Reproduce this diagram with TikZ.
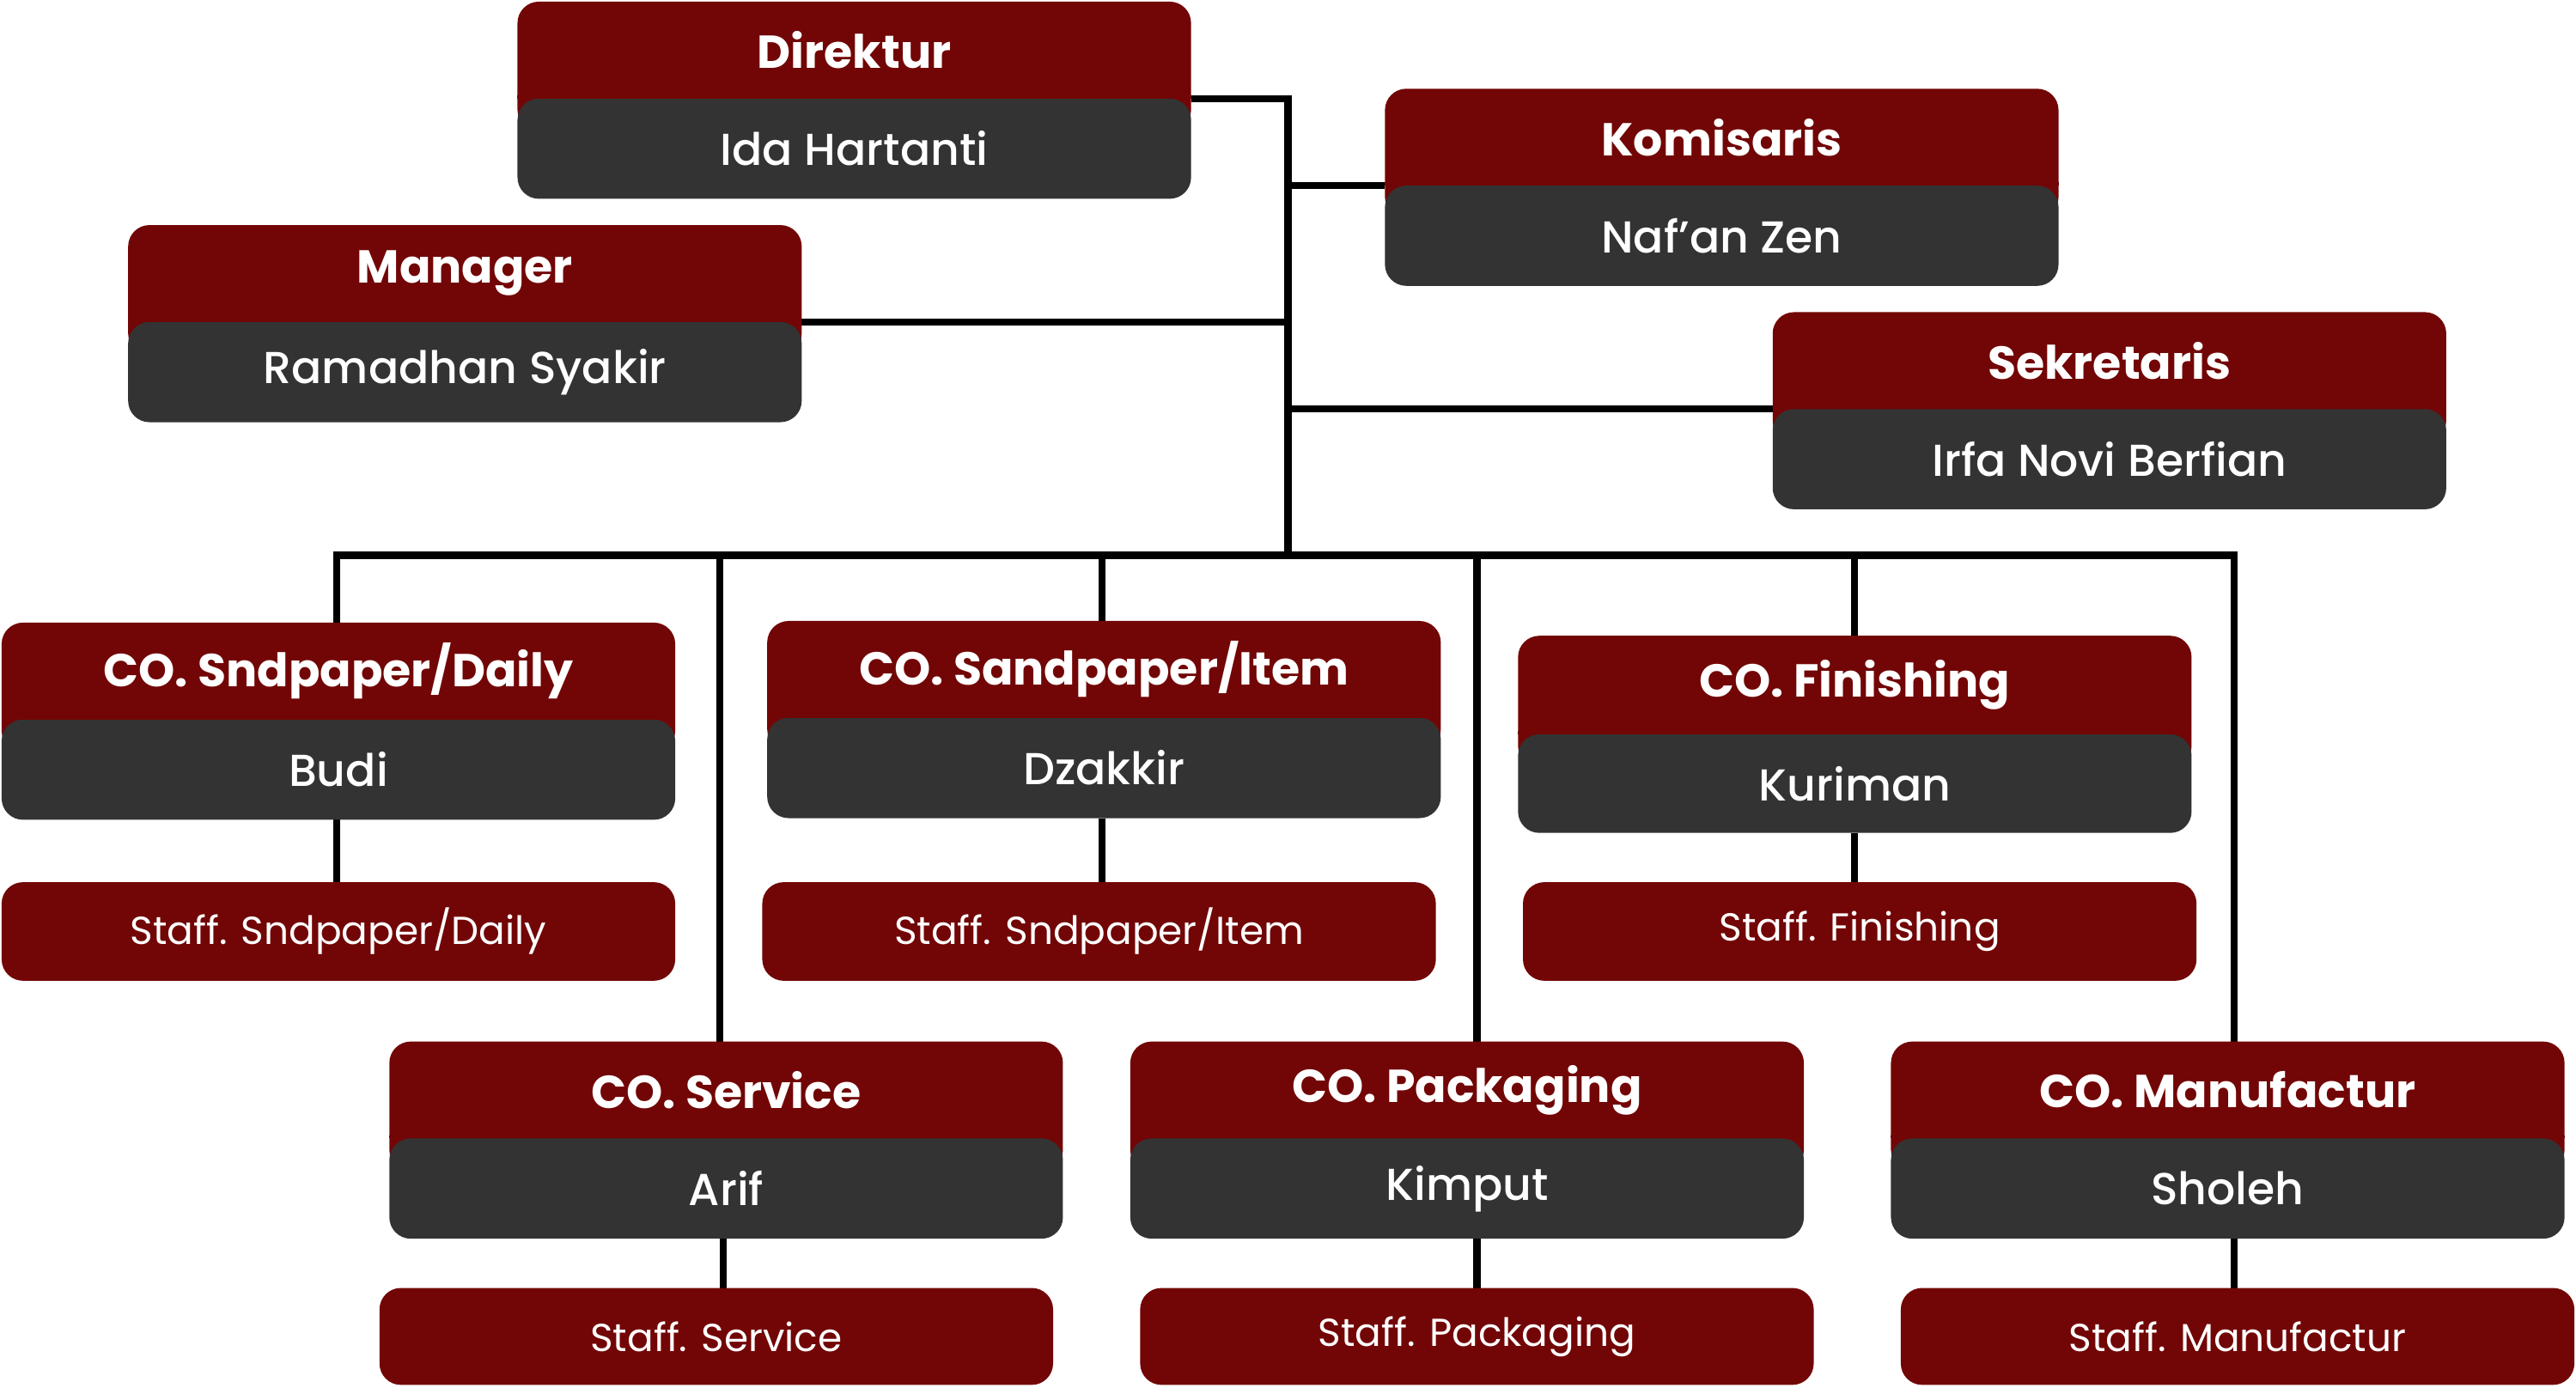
\documentclass[tikz,border=0pt]{standalone}
\usepackage{fontspec}
\setmainfont{Poppins}
\definecolor{hred}{HTML}{720606}
\definecolor{hdark}{HTML}{333333}
\newcommand\orgbox[7]{%
 \fill[hred,rounded corners=0.26cm] (#2,#3) rectangle (#2+410,#4+20);
 \fill[hdark,rounded corners=0.26cm] (#2,#4) rectangle (#2+410,#5);
 \fill[hred] (#2,#4-2) rectangle (#2+410,#4);
 \node[tt] (#1t) at (#2+205,{(#3+#4)/2}) {#6};
 \node[nm] (#1) at (#2+205,{(#4+#5)/2}) {#7};}
\newcommand\staffbox[5]{%
 \fill[hred,rounded corners=0.26cm] (#2,#3) rectangle (#2+410,#4);
 \node[st] (#1) at (#2+205,{(#3+#4)/2}) {#5};}
\begin{document}
\begin{tikzpicture}[x=0.02cm,y=-0.02cm,
 tt/.style={text=white,font=\fontsize{16}{18}\selectfont\bfseries},
 nm/.style={text=white,font=\fontsize{15.5}{18}\selectfont\fontspec{Poppins Medium}},
 st/.style={text=white,font=\fontsize{13.5}{16}\selectfont},
 ln/.style={line width=2.4pt,black}]
\useasboundingbox (0,0) rectangle (1568,844.5);
% connectors
\draw[ln] (725,60) -- (784,60) -- (784,338);
\draw[ln] (784,113) -- (843,113);
\draw[ln] (488,196) -- (784,196);
\draw[ln] (784,249) -- (1079,249);
\draw[ln] (205,379) -- (205,338) -- (1360,338) -- (1360,634);
\draw[ln] (438,338) -- (438,634);
\draw[ln] (671,338) -- (671,378);
\draw[ln] (899,338) -- (899,634);
\draw[ln] (1129,338) -- (1129,387);
\draw[ln] (205,499) -- (205,537);
\draw[ln] (671,498) -- (671,537);
\draw[ln] (1129,507) -- (1129,537);
\draw[ln] (440,754) -- (440,784);
\draw[ln] (899,754) -- (899,784);
\draw[ln] (1360,754) -- (1360,784);
% boxes
\orgbox{dir}{315}{1}{60}{121}{Direktur}{Ida Hartanti}
\orgbox{kom}{843}{54}{113}{174}{Komisaris}{Naf’an Zen}
\orgbox{man}{78}{137}{196}{257}{Manager}{Ramadhan Syakir}
\orgbox{sek}{1079}{190}{249}{310}{Sekretaris}{Irfa Novi Berfian}
\orgbox{cod}{1}{379}{438}{499}{CO. Sndpaper/Daily}{Budi}
\orgbox{coi}{467}{378}{437}{498}{CO. Sandpaper/Item}{Dzakkir}
\orgbox{cof}{924}{387}{447}{507}{CO. Finishing}{Kuriman}
\staffbox{sd}{1}{537}{597}{Staff. Sndpaper/Daily}
\staffbox{si}{464}{537}{597}{Staff. Sndpaper/Item}
\staffbox{sf}{927}{537}{597}{Staff. Finishing}
\orgbox{cos}{237}{634}{693}{754}{CO. Service}{Arif}
\orgbox{cop}{688}{634}{693}{754}{CO. Packaging}{Kimput}
\orgbox{com}{1151}{634}{693}{754}{CO. Manufactur}{Sholeh}
\staffbox{ss}{231}{784}{843}{Staff. Service}
\staffbox{sp}{694}{784}{843}{Staff. Packaging}
\staffbox{sm}{1157}{784}{843}{Staff. Manufactur}
\end{tikzpicture}
\end{document}
